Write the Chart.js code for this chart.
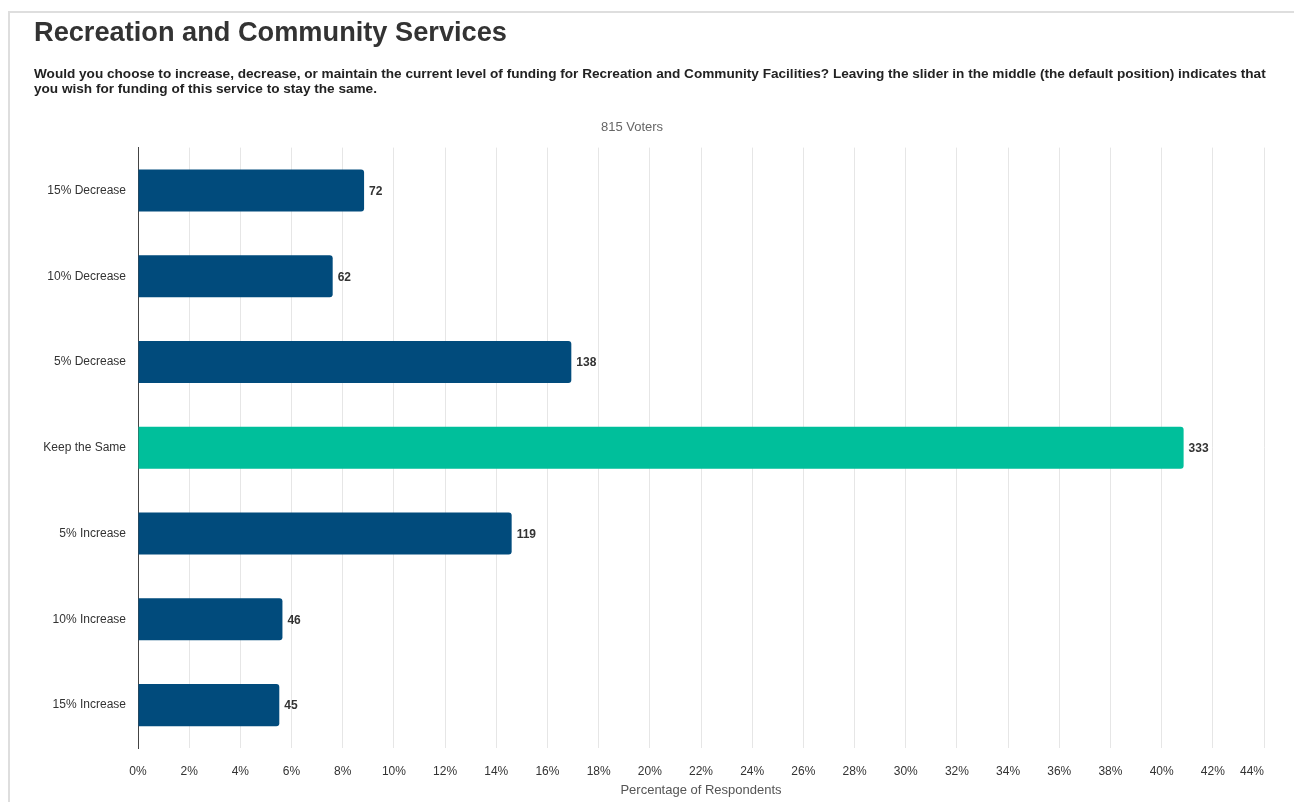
<!DOCTYPE html>
<html>
<head>
<meta charset="utf-8">
<title>Recreation and Community Services</title>
<script src="https://cdn.jsdelivr.net/npm/chart.js@4/dist/chart.umd.min.js"></script>
<style>
  html, body { margin: 0; padding: 0; background: #fff; }
  body { width: 1294px; height: 802px; position: relative; overflow: hidden;
         font-family: "Liberation Sans", Arial, Helvetica, sans-serif; color: #333; }
  .frame { position: absolute; left: 8px; top: 11px; right: -10px; bottom: -10px;
           border-top: 2px solid #dedede; border-left: 2px solid #dedede; }
  h1 { position: absolute; left: 34px; top: 16px; margin: 0; font-size: 27.2px; font-weight: bold; color: #333; }
  .question { position: absolute; left: 34px; top: 66px; margin: 0; font-size: 13.6px; line-height: 15px;
              font-weight: bold; color: #222; white-space: nowrap; }
  #chart { position: absolute; left: 0; top: 0; }
</style>
</head>
<body>
<div class="frame"></div>
<canvas id="chart" width="1294" height="802"></canvas>
<h1>Recreation and Community Services</h1>
<p class="question">Would you choose to increase, decrease, or maintain the current level of funding for Recreation and Community Facilities? Leaving the slider in the middle (the default position) indicates that<br>you wish for funding of this service to stay the same.</p>
<script>
// respuestas por opción (número de votantes)
const categories = ['15% Decrease', '10% Decrease', '5% Decrease', 'Keep the Same', '5% Increase', '10% Increase', '15% Increase'];
const voteCounts = [72, 62, 138, 333, 119, 46, 45];
const totalVoters = 815;
const xTicks = [0, 2, 4, 6, 8, 10, 12, 14, 16, 18, 20, 22, 24, 26, 28, 30, 32, 34, 36, 38, 40, 42, 44];

const BLUE = '#014b7c';
const TEAL = '#00bf9b';
const FONT = '"Liberation Sans", Arial, sans-serif';

const percentages = voteCounts.map(c => c / totalVoters * 100);
const barColors = categories.map(c => c === 'Keep the Same' ? TEAL : BLUE);
const lastTick = xTicks[xTicks.length - 1];

// número de votos al final de cada barra + la última etiqueta del eje,
// alineada a la derecha para que no se salga del gráfico
const countLabels = {
    id: 'countLabels',
    afterDatasetsDraw(chart) {
        const ctx = chart.ctx;
        const meta = chart.getDatasetMeta(0);
        ctx.save();
        ctx.font = 'bold 12px ' + FONT;
        ctx.fillStyle = '#333';
        ctx.textAlign = 'left';
        ctx.textBaseline = 'middle';
        meta.data.forEach((bar, i) => {
            ctx.fillText(String(voteCounts[i]), bar.x + 5, bar.y + 1);
        });

        const xs = chart.scales.x;
        ctx.font = '12px ' + FONT;
        ctx.textAlign = 'right';
        ctx.fillText(lastTick + '%', xs.getPixelForValue(lastTick), xs.top + 16 + 8);
        ctx.restore();
    }
};

new Chart(document.getElementById('chart'), {
    type: 'bar',
    data: {
        labels: categories,
        datasets: [{
            data: percentages,
            backgroundColor: barColors,
            borderRadius: 3,
            barPercentage: 0.49,
            categoryPercentage: 1
        }]
    },
    plugins: [countLabels],
    options: {
        indexAxis: 'y',
        responsive: false,
        animation: false,
        layout: { padding: { top: 120, right: 30, bottom: 0, left: 0 } },
        plugins: {
            legend: { display: false },
            tooltip: { enabled: false },
            title: {
                display: true,
                text: totalVoters + ' Voters',
                color: '#666',
                font: { family: FONT, size: 13, weight: 'normal' },
                padding: { top: 0, bottom: 12 }
            }
        },
        scales: {
            x: {
                min: 0,
                max: lastTick,
                afterBuildTicks(scale) {
                    scale.ticks = xTicks.map(v => ({ value: v }));
                },
                afterFit(scale) { scale.height = 54; },
                grid: { color: '#e6e6e6', drawTicks: false },
                border: { display: false },
                ticks: {
                    padding: 16,
                    color: '#333',
                    font: { family: FONT, size: 12 },
                    callback: v => v === lastTick ? '' : v + '%'
                },
                title: {
                    display: true,
                    text: 'Percentage of Respondents',
                    color: '#555',
                    font: { family: FONT, size: 13 },
                    padding: { top: 2, bottom: 4 }
                }
            },
            y: {
                grid: { display: false, drawTicks: false },
                border: { display: true, color: '#444', width: 1 },
                afterFit(scale) { scale.width = 138; },
                ticks: {
                    padding: 12,
                    color: '#333',
                    font: { family: FONT, size: 12 }
                }
            }
        }
    }
});
</script>
</body>
</html>
